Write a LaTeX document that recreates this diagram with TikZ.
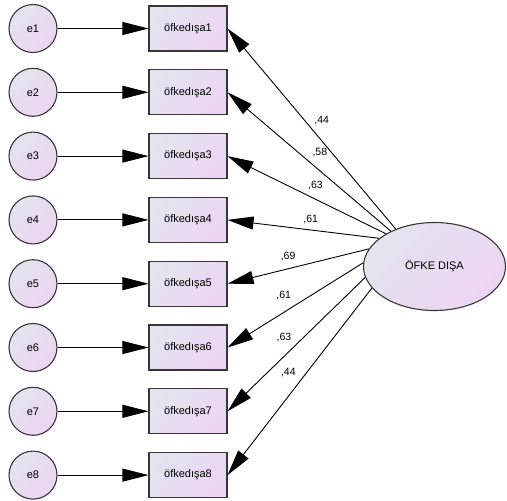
\documentclass[tikz,border=0pt]{standalone}
\usepackage{fontspec}
\setmainfont{Liberation Sans}
\usetikzlibrary{arrows.meta,shapes.geometric}

\definecolor{fillleft}{RGB}{226,228,239}
\definecolor{fillright}{RGB}{237,212,242}
\definecolor{edgegray}{RGB}{55,55,55}

\begin{document}
\begin{tikzpicture}[
    x=1pt,
    y=-1pt,
    font=\fontsize{11}{13}\selectfont,
    shade box/.style={draw=edgegray,line width=1.1pt,top color=fillleft,bottom color=fillright,shading angle=45},
    error node/.style={shade box,circle,minimum size=48pt,inner sep=0pt},
    item node/.style={shade box,rectangle,minimum width=78pt,minimum height=45pt,inner sep=0pt},
    latent node/.style={shade box,ellipse,minimum width=142pt,minimum height=88pt,inner sep=0pt},
    path arrow/.style={-{Triangle[length=26pt,width=13pt]},line width=0.9pt,black},
    weight/.style={inner sep=0pt,font=\fontsize{10.5}{12}\selectfont}
    ]
    \useasboundingbox (0,0) rectangle (507,501);

    \node[latent node] (F) at (434.5,266.5) {ÖFKE DIŞA};

    % indicators and their errors
    \foreach \i in {1,...,8} {
      \node[error node] (e\i) at (33,{28.5+63.8*(\i-1)}) {e\i};
      \node[item node] (x\i) at (188,{28.5+63.8*(\i-1)}) {öfkedışa\i};
      \draw[path arrow] (e\i) -- (x\i);
    }

    % loadings
    \foreach \i/\a/\p/\w/\dx/\dy in {
        1/136/.50/{,44}/10/-8.5,
        2/141/.49/{,58}/9/-10.5,
        3/146/.48/{,63}/5.6/-11.4,
        4/153/.46/{,61}/1.3/-10.7,
        5/165/.55/{,69}/-3/-12,
        6/177/.53/{,61}/-7.6/-12,
        7/189/.52/{,63}/-9.6/-9.8,
        8/199/.50/{,44}/-11.4/-8.8} {
      \path[path arrow]
        (F.\a) edge node[weight,pos=\p,shift={(\dx,\dy)}] {\w} (x\i.east);
    }
\end{tikzpicture}
\end{document}
